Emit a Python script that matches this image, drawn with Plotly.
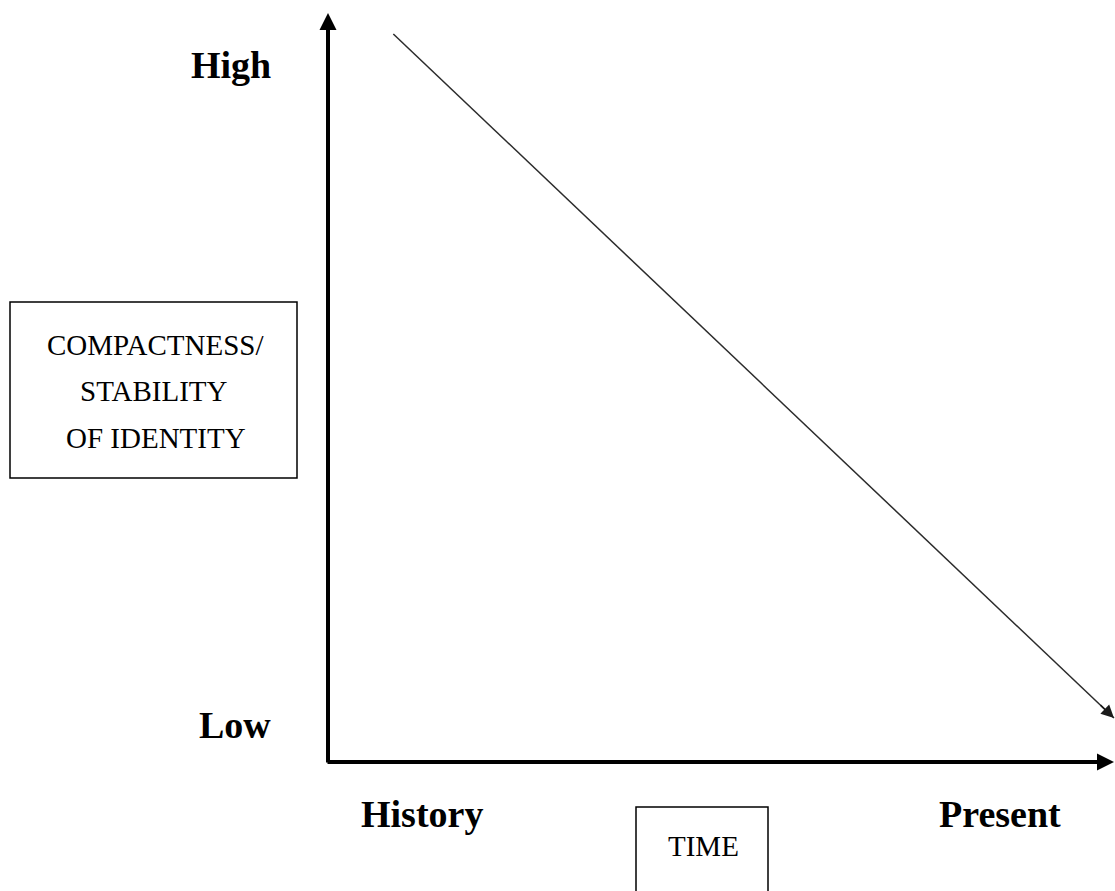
import plotly.graph_objects as go

# ---- data (conceptual units: time 0..1 along the x axis, level 0..1 up the y axis)
time_labels = ["History", "Present"]
level_labels = ["High", "Low"]
box_lines = ["COMPACTNESS/", "STABILITY", "OF IDENTITY"]
x_title = "TIME"
trend_time = [0.083, 0.9987]
trend_level = [0.9733, 0.0588]

W, H = 1115, 891
OX, OY = 328, 762      # pixel position of the origin
SX, SY = 787, 748      # pixels per unit


def px2x(p):
    return (p - OX) / SX


def px2y(p):
    return (OY - p) / SY


fig = go.Figure()

# trend line
fig.add_trace(go.Scatter(
    x=trend_time, y=trend_level, mode="lines",
    line=dict(color="#2b2b2b", width=1.5),
    hoverinfo="skip", showlegend=False,
))

annotations = []
# arrowhead of the trend line
annotations.append(dict(
    x=trend_time[-1], y=trend_level[-1], xref="x", yref="y",
    ax=-15, ay=-14.3, text="", showarrow=True,
    arrowhead=2, arrowsize=1.7, arrowwidth=1.5, arrowcolor="#1a1a1a",
))
# axes with arrows
annotations.append(dict(
    x=px2x(1114), y=0, ax=px2x(326), ay=0, xref="x", yref="y",
    axref="x", ayref="y", text="", showarrow=True,
    arrowhead=2, arrowsize=0.85, arrowwidth=4, arrowcolor="#000000",
))
annotations.append(dict(
    x=0, y=px2y(13), ax=0, ay=px2y(764), xref="x", yref="y",
    axref="x", ayref="y", text="", showarrow=True,
    arrowhead=2, arrowsize=0.85, arrowwidth=4, arrowcolor="#000000",
))

bold_font = dict(family="Liberation Serif", size=38, color="#000000")
reg_font = dict(family="Liberation Serif", size=29, color="#000000")

# level labels
for lab, (cx, cy) in zip(level_labels, [(231, 65), (235, 725)]):
    annotations.append(dict(x=px2x(cx), y=px2y(cy), xref="x", yref="y",
                            text="<b>%s</b>" % lab, showarrow=False,
                            font=bold_font, xanchor="center", yanchor="middle"))
# time labels
for lab, (cx, cy) in zip(time_labels, [(422, 814), (1000, 814)]):
    annotations.append(dict(x=px2x(cx), y=px2y(cy), xref="x", yref="y",
                            text="<b>%s</b>" % lab, showarrow=False,
                            font=bold_font, xanchor="center", yanchor="middle"))
# box text
for lab, (cx, cy) in zip(box_lines, [(155, 345), (154, 391), (156, 438)]):
    annotations.append(dict(x=px2x(cx), y=px2y(cy), xref="x", yref="y",
                            text=lab, showarrow=False,
                            font=reg_font, xanchor="center", yanchor="middle"))
annotations.append(dict(x=px2x(703), y=px2y(846), xref="x", yref="y",
                        text=x_title, showarrow=False,
                        font=reg_font, xanchor="center", yanchor="middle"))

shapes = [
    dict(type="rect", xref="x", yref="y",
         x0=px2x(10), x1=px2x(297), y0=px2y(478), y1=px2y(302),
         line=dict(color="#000000", width=1.5), fillcolor="rgba(0,0,0,0)"),
    dict(type="rect", xref="x", yref="y",
         x0=px2x(636), x1=px2x(768), y0=px2y(930), y1=px2y(807),
         line=dict(color="#000000", width=1.5), fillcolor="rgba(0,0,0,0)"),
]

fig.update_layout(
    width=W, height=H,
    margin=dict(l=0, r=0, t=0, b=0),
    paper_bgcolor="white", plot_bgcolor="white",
    xaxis=dict(range=[px2x(0), px2x(W)], visible=False, fixedrange=True),
    yaxis=dict(range=[px2y(H), px2y(0)], visible=False, fixedrange=True),
    annotations=annotations, shapes=shapes, showlegend=False,
)

# remove the default page margin so the figure fills the window exactly
post = ("document.documentElement.style.margin='0';"
        "document.body.style.margin='0';"
        "document.body.style.overflow='hidden';")
fig.write_html("out.html", post_script=post,
               config={"displayModeBar": False, "staticPlot": True})
